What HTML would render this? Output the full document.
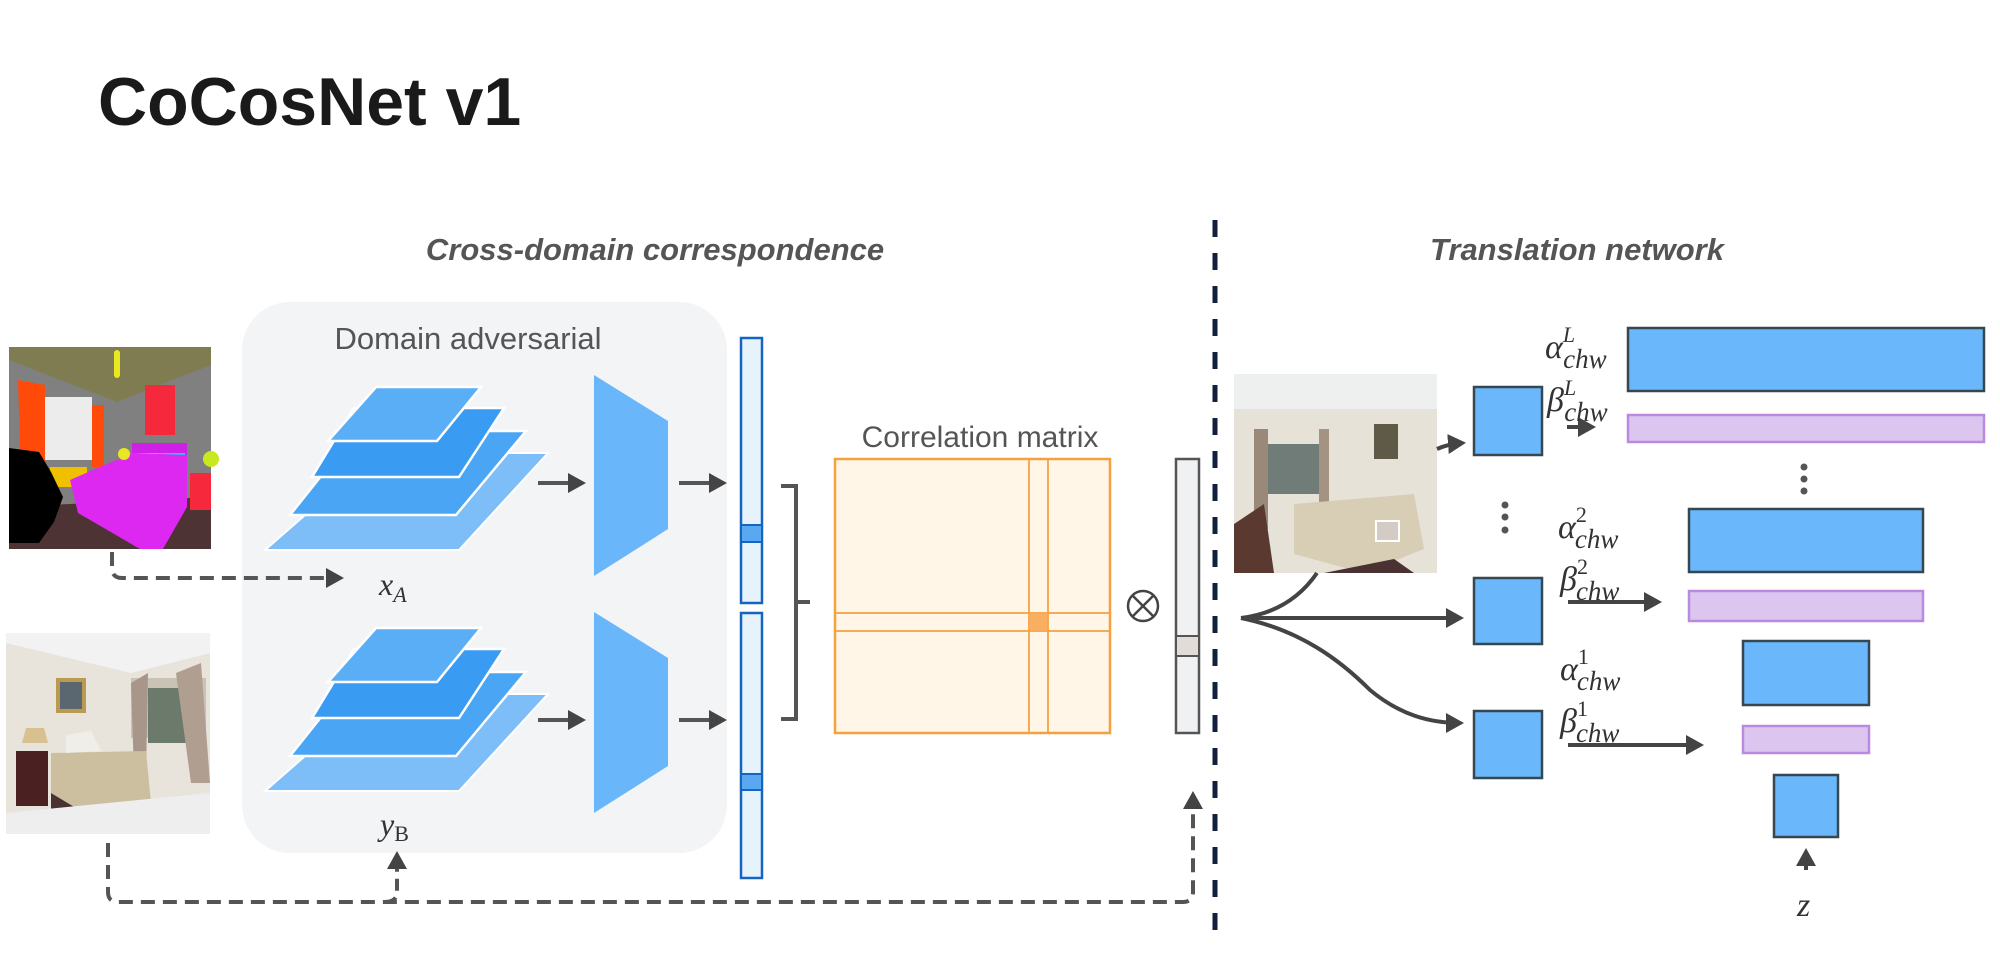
<!DOCTYPE html>
<html><head><meta charset="utf-8"><style>
html,body{margin:0;padding:0;background:#fff}
svg{display:block}
.t{font-family:"Liberation Sans",sans-serif}
.m{font-family:"Liberation Serif","DejaVu Serif",serif;font-style:italic;fill:#333}
</style></head><body>
<svg width="2000" height="964" viewBox="0 0 2000 964" xmlns="http://www.w3.org/2000/svg">
<defs>
<marker id="ah2" markerWidth="5" markerHeight="5" refX="3.5" refY="2.5" orient="auto" markerUnits="strokeWidth"><path d="M0,0 L4.5,2.5 L0,5 Z" fill="#444"/></marker>
</defs>
<text x="98" y="125" class="t" font-size="68" font-weight="bold" fill="#1a1a1a">CoCosNet v1</text>
<text x="655" y="260" class="t" font-size="31" font-weight="bold" font-style="italic" fill="#555" text-anchor="middle">Cross-domain correspondence</text>
<text x="1577" y="260" class="t" font-size="31" font-weight="bold" font-style="italic" fill="#555" text-anchor="middle">Translation network</text>
<line x1="1215" y1="220" x2="1215" y2="932" stroke="#10213f" stroke-width="5" stroke-dasharray="17,16"/>

<rect x="242" y="302" width="485" height="551" rx="48" fill="#f3f4f6"/>
<text x="468" y="349" class="t" font-size="31" fill="#555" text-anchor="middle">Domain adversarial</text>

<g transform="translate(9,347)">
<rect width="202" height="202" fill="#808080"/>
<polygon points="0,0 202,0 202,18 108,55 0,13" fill="#807c52"/>
<polygon points="0,160 202,150 202,202 0,202" fill="#4d3333"/>
<rect x="36" y="50" width="47" height="63" fill="#ececec"/>
<polygon points="9,33 36,38 36,126 12,130" fill="#ff4a0a"/>
<rect x="83" y="58" width="12" height="62" fill="#ff4a0a"/>
<rect x="136" y="38" width="30" height="50" fill="#f5283c"/>
<rect x="41" y="120" width="37" height="20" fill="#f0c000"/>
<rect x="181" y="126" width="21" height="37" fill="#f5283c"/>
<rect x="123" y="96" width="55" height="12" fill="#d020e8"/>
<rect x="113" y="106" width="63" height="19" fill="#20c8f0"/>
<rect x="130" y="106" width="18" height="20" fill="#f5a800"/>
<polygon points="61,133 123,106 178,108 178,160 154,202 131,202 69,166" fill="#dc28f0"/>
<polygon points="0,101 30,105 42,125 54,150 45,175 30,196 0,196" fill="#000"/>
<rect x="105" y="3" width="6" height="28" rx="3" fill="#e8e820"/>
<circle cx="115" cy="107" r="6" fill="#e8e820"/><circle cx="202" cy="112" r="8" fill="#c8e820"/>
</g>

<g transform="translate(6,633)">
<rect width="204" height="201" fill="#e8e4dc"/>
<polygon points="0,0 204,0 204,20 125,40 0,10" fill="#f2f2f2"/>
<rect x="125" y="45" width="75" height="60" fill="#c9c3b6"/>
<rect x="142" y="55" width="40" height="55" fill="#6b7a6a"/>
<polygon points="125,50 142,40 140,140 128,140" fill="#a8968a"/>
<polygon points="170,40 195,30 204,150 185,150" fill="#b09e90"/>
<rect x="50" y="45" width="30" height="35" fill="#b89a50"/><rect x="54" y="49" width="22" height="27" fill="#5a6670"/>
<polygon points="45,120 140,118 145,170 95,190 45,160" fill="#cbbf9f"/>
<polygon points="45,160 95,190 145,170 148,185 95,201 45,180" fill="#4a3232"/>
<rect x="10" y="118" width="32" height="55" fill="#4a2020"/>
<polygon points="20,95 38,95 42,110 16,110" fill="#d8c090"/>
<polygon points="60,102 85,98 95,118 60,120" fill="#f0eee8"/>
<polygon points="0,180 204,160 204,201 0,201" fill="#eeeeee"/>
</g>

<g id="stk">
<polygon points="376,453 548,453 459,550 265,550" fill="#7dbdf8" stroke="#fff" stroke-width="2"/>
<polygon points="357,431 526,431 456,515 290,515" fill="#4aa5f5" stroke="#fff" stroke-width="2.5"/>
<polygon points="354,408 504,408 459,477 312,477" fill="#3a9bf2" stroke="#fff" stroke-width="2.5"/>
<polygon points="376,387 481,387 437,441 328,441" fill="#5aaef6" stroke="#fff" stroke-width="2.5"/>
</g>
<use href="#stk" transform="translate(0,241)"/>

<g stroke="#555" stroke-width="4" fill="none" marker-end="url(#ah2)">
<line x1="538" y1="483" x2="582" y2="483"/><line x1="679" y1="483" x2="723" y2="483"/>
<line x1="538" y1="720" x2="582" y2="720"/><line x1="679" y1="720" x2="723" y2="720"/>
</g>
<polygon points="594,375 668,421 668,529 594,576" fill="#6ab6fb"/>
<polygon points="594,612 668,658 668,766 594,813" fill="#6ab6fb"/>
<rect x="741" y="338" width="21" height="265" fill="#e6f2fc" stroke="#1565c0" stroke-width="2.5"/>
<rect x="741" y="525" width="21" height="17" fill="#5aa8f0" stroke="#1565c0" stroke-width="2"/>
<rect x="741" y="613" width="21" height="265" fill="#e6f2fc" stroke="#1565c0" stroke-width="2.5"/>
<rect x="741" y="774" width="21" height="16" fill="#5aa8f0" stroke="#1565c0" stroke-width="2"/>
<path d="M781,486 H796 V719 H781 M796,602 H810" stroke="#555" stroke-width="4" fill="none"/>
<text x="379" y="595" class="m" font-size="32">x<tspan font-size="22" dy="7">A</tspan></text>
<text x="380" y="835" class="m" font-size="32">y<tspan font-size="22" dy="6" font-style="normal">B</tspan></text>

<path d="M112,552 V568 Q112,578 122,578 H340" stroke="#555" stroke-width="4" fill="none" stroke-dasharray="14,8" marker-end="url(#ah2)"/>
<path d="M108,843 V892 Q108,902 118,902 H1183 Q1193,902 1193,892 V795" stroke="#555" stroke-width="4" fill="none" stroke-dasharray="14,8" marker-end="url(#ah2)"/>
<path d="M385,902 Q397,902 397,892 V855" stroke="#555" stroke-width="4" fill="none" stroke-dasharray="12,7" marker-end="url(#ah2)"/>

<text x="980" y="447" class="t" font-size="30" fill="#555" text-anchor="middle">Correlation matrix</text>
<rect x="835" y="459" width="275" height="274" fill="#fff6e8" stroke="#f5a142" stroke-width="2.5"/>
<line x1="1029" y1="459" x2="1029" y2="733" stroke="#f5a142" stroke-width="1.8"/>
<line x1="1048" y1="459" x2="1048" y2="733" stroke="#f5a142" stroke-width="1.8"/>
<line x1="835" y1="613" x2="1110" y2="613" stroke="#f5a142" stroke-width="1.8"/>
<line x1="835" y1="631" x2="1110" y2="631" stroke="#f5a142" stroke-width="1.8"/>
<rect x="1030" y="614" width="17" height="16" fill="#f8b060"/>
<circle cx="1143" cy="606" r="15" fill="none" stroke="#444" stroke-width="2.5"/>
<path d="M1133,596 L1153,616 M1153,596 L1133,616" stroke="#444" stroke-width="2.5"/>
<rect x="1176" y="459" width="23" height="274" fill="#f0f1f3" stroke="#555" stroke-width="2.5"/>
<rect x="1176" y="636" width="23" height="20" fill="#e2dcd8" stroke="#555" stroke-width="2"/>

<g transform="translate(1234,374)">
<rect width="203" height="199" fill="#e6e2d8"/>
<rect width="203" height="35" fill="#eef0f0"/>
<rect x="32" y="70" width="55" height="50" fill="#6f7c78"/>
<rect x="20" y="55" width="14" height="100" fill="#9a8878"/>
<rect x="85" y="55" width="10" height="90" fill="#a49282"/>
<rect x="140" y="50" width="24" height="35" fill="#5f5a48"/>
<polygon points="60,130 180,120 190,175 130,199 60,180" fill="#d8ceb6"/>
<polygon points="0,150 30,130 40,199 0,199" fill="#5a3a30"/>
<polygon points="90,199 160,185 180,199" fill="#4a3232"/>
<rect x="142" y="147" width="23" height="20" fill="#d4ccc4" stroke="#fff" stroke-width="2"/>
</g>

<g stroke="#444" stroke-width="4" fill="none">
<path d="M1317,573 Q1290,612 1241,618" />
<path d="M1241,618 H1460" marker-end="url(#ah2)"/>
<path d="M1241,618 C1300,630 1340,660 1370,690 C1400,715 1430,723 1460,723" marker-end="url(#ah2)"/>
<path d="M1437,449 Q1448,444 1462,443" marker-end="url(#ah2)"/>
<line x1="1567" y1="427" x2="1592" y2="427" marker-end="url(#ah2)"/>
<line x1="1568" y1="602" x2="1658" y2="602" marker-end="url(#ah2)"/>
<line x1="1568" y1="745" x2="1700" y2="745" marker-end="url(#ah2)"/>
<line x1="1806" y1="870" x2="1806" y2="852" marker-end="url(#ah2)"/>
</g>

<g fill="#6ab8fb" stroke="#37474f" stroke-width="2.5">
<rect x="1474" y="387" width="68" height="68"/>
<rect x="1474" y="578" width="68" height="66"/>
<rect x="1474" y="711" width="68" height="67"/>
<rect x="1628" y="328" width="356" height="63"/>
<rect x="1689" y="509" width="234" height="63"/>
<rect x="1743" y="641" width="126" height="64"/>
<rect x="1774" y="775" width="64" height="62"/>
</g>
<g fill="#dcc6ef" stroke="#b98ae0" stroke-width="2.5">
<rect x="1628" y="415" width="356" height="27"/>
<rect x="1689" y="591" width="234" height="30"/>
<rect x="1743" y="726" width="126" height="27"/>
</g>
<g fill="#555">
<circle cx="1804" cy="467" r="3.5"/><circle cx="1804" cy="479" r="3.5"/><circle cx="1804" cy="491" r="3.5"/>
<circle cx="1505" cy="505" r="3.5"/><circle cx="1505" cy="517" r="3.5"/><circle cx="1505" cy="530" r="3.5"/>
</g>
<g class="m" font-size="34">
<text x="1545" y="358">α<tspan font-size="22" dy="-16">L</tspan><tspan font-size="27" dx="-12" dy="26">chw</tspan></text>
<text x="1547" y="411">β<tspan font-size="22" dy="-16">L</tspan><tspan font-size="27" dx="-12" dy="26">chw</tspan></text>
<text x="1558" y="538">α<tspan font-size="22" dy="-16" font-style="normal">2</tspan><tspan font-size="27" dx="-12" dy="26">chw</tspan></text>
<text x="1560" y="590">β<tspan font-size="22" dy="-16" font-style="normal">2</tspan><tspan font-size="27" dx="-12" dy="26">chw</tspan></text>
<text x="1560" y="680">α<tspan font-size="22" dy="-16" font-style="normal">1</tspan><tspan font-size="27" dx="-12" dy="26">chw</tspan></text>
<text x="1560" y="732">β<tspan font-size="22" dy="-16" font-style="normal">1</tspan><tspan font-size="27" dx="-12" dy="26">chw</tspan></text>
<text x="1797" y="916">z</text>
</g>
</svg>
</body></html>
